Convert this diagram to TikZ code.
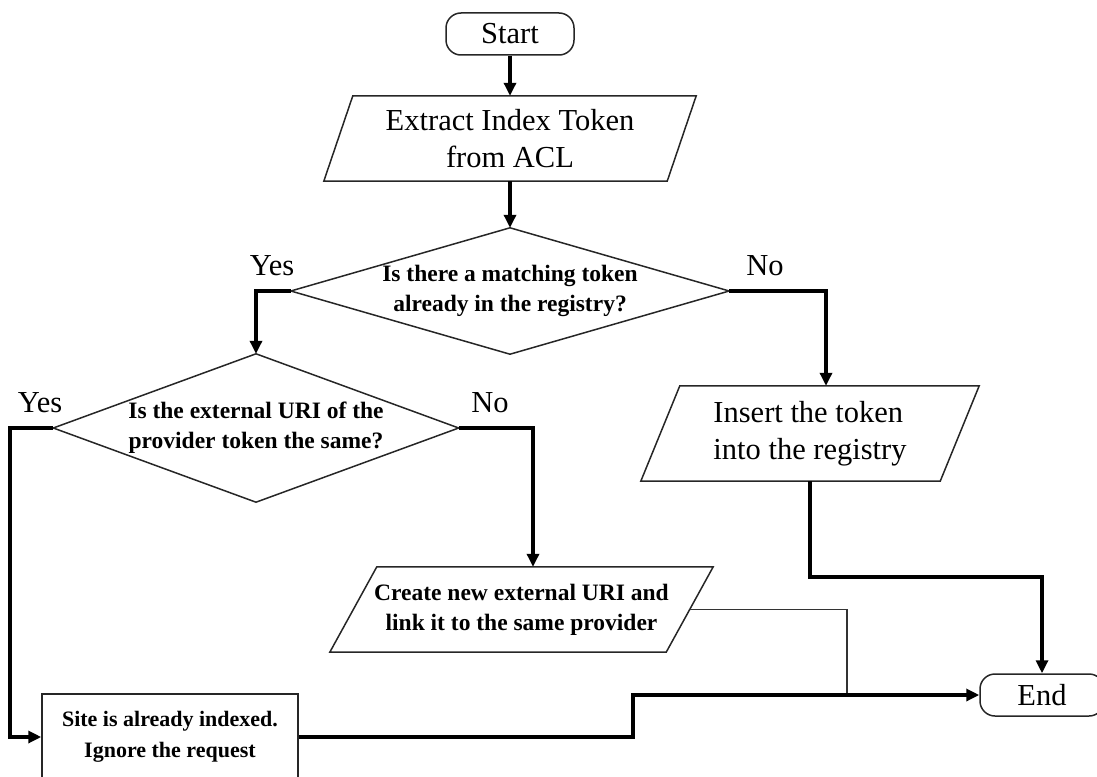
\documentclass[tikz,border=0pt]{standalone}
\usepackage{fontspec}
\setmainfont{Liberation Serif}
\usetikzlibrary{arrows.meta,calc}
\newcommand{\drawpara}[2]{\draw[outline] ($(#1.north west)+(#2,0)$) -- (#1.north east) -- ($(#1.south east)+(-#2,0)$) -- (#1.south west) -- cycle;}
\newcommand{\drawdiam}[1]{\draw[outline] (#1.north) -- (#1.east) -- (#1.south) -- (#1.west) -- cycle;}
\tikzset{
  bigtext/.style={font=\fontsize{30.5}{37}\selectfont},
  smalltext/.style={font=\bfseries\fontsize{23.5}{30}\selectfont},
  sitetext/.style={font=\bfseries\fontsize{22}{31}\selectfont},
  shapebox/.style={inner sep=0pt, align=center},
  outline/.style={line width=1.5pt, draw=black!85},
  flow/.style={line width=3.2pt, draw=black, -{Triangle[length=13pt,width=12pt]}},
  thinline/.style={line width=1.6pt, draw=black!80},
  terminal/.style={draw=black!85, line width=1.5pt, rounded corners=15pt, inner sep=0pt, bigtext}
}
\begin{document}
\begin{tikzpicture}[x=1pt,y=-1pt]
\useasboundingbox (0,0) rectangle (1097,776);
% nodes
\node[terminal, minimum width=128pt, minimum height=42pt] (start) at (510,34) {Start};
\node[shapebox, bigtext, minimum width=372pt, minimum height=85pt] (p1) at (510,138.5) {Extract Index Token\\from ACL};
\drawpara{p1}{29}
\node[shapebox, smalltext, minimum width=438pt, minimum height=126pt] (d1) at (510,291) {Is there a matching token\\already in the registry?};
\drawdiam{d1}
\node[shapebox, smalltext, minimum width=405pt, minimum height=148pt] (d2) at (256,428) {Is the external URI of the\\provider token the same?};
\drawdiam{d2}
\node[shapebox, bigtext, align=left, minimum width=338pt, minimum height=95pt] (p3) at (810,433.5) {Insert the token\\into the registry};
\drawpara{p3}{39}
\node[shapebox, smalltext, minimum width=383pt, minimum height=85pt] (p2) at (521.5,609.5) {Create new external URI and\\link it to the same provider};
\drawpara{p2}{47}
\node[shapebox, sitetext, draw=black!85, line width=1.5pt, minimum width=256pt, minimum height=86pt] (site) at (170,737) {Site is already indexed.\\Ignore the request};
\node[terminal, minimum width=124pt, minimum height=42pt] (end) at (1042,695) {End};
% labels
\node[bigtext] (yes1) at (272,266) {Yes};
\node[bigtext] (no1) at (765,266) {No};
\node[bigtext] (yes2) at (40,403) {Yes};
\node[bigtext] (no2) at (490,403) {No};
% connectors
\coordinate (c1) at (256,291);
\coordinate (c2) at (826,291);
\coordinate (c3) at (10,428);
\coordinate (c4) at (533,428);
\coordinate (c5) at (0,577);
\coordinate (c6) at (847,609.5);
\coordinate (c7) at (633,737);
\draw[flow] (start.south) -- (p1.north);
\draw[flow] (p1.south) -- (d1.north);
\draw[flow] (d1.west) -- (c1) -- (d2.north);
\draw[flow] (d1.east) -- (c2) -- (c2 |- p3.north);
\draw[flow] (d2.west) -- (c3) -- (c3 |- site.west) -- (site.west);
\draw[flow] (d2.east) -- (c4) -- (c4 |- p2.north);
\draw[flow] (p3.south) -- (p3.south |- c5) -- (c5 -| end.north) -- (end.north);
\draw[thinline] ($(p2.east)+(-23.5,0)$) -- (c6) -- (c6 |- end.west);
\draw[flow] (site.east) -- (c7) -- (c7 |- end.west) -- (end.west);
\end{tikzpicture}
\end{document}
